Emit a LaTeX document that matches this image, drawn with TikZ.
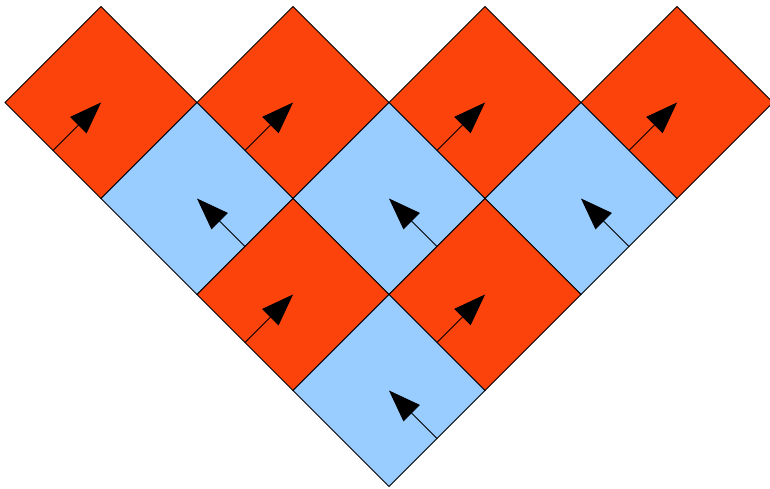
\documentclass[tikz,border=0pt]{standalone}
\usetikzlibrary{shapes.geometric,arrows.meta}
\definecolor{tilered}{RGB}{252,67,12}
\definecolor{tileblue}{RGB}{153,204,255}
\begin{document}
\begin{tikzpicture}[x=1pt,y=-1pt,
  tile/.style={diamond,draw=black,line width=0.8pt,minimum width=192pt,minimum height=192pt,inner sep=0pt,outer sep=0pt},
  redtile/.style={tile,fill=tilered},
  bluetile/.style={tile,fill=tileblue},
  vec/.style={line width=0.8pt,-{Triangle[length=32pt,width=23pt]}}]
\useasboundingbox (0,0) rectangle (770,489);
% row 0 (red)
\node[redtile] (a1) at (101,102.5) {};
\node[redtile] (a2) at (293,102.5) {};
\node[redtile] (a3) at (485,102.5) {};
\node[redtile] (a4) at (677,102.5) {};
% row 1 (blue)
\node[bluetile] (b1) at (197,198.5) {};
\node[bluetile] (b2) at (389,198.5) {};
\node[bluetile] (b3) at (581,198.5) {};
% row 2 (red)
\node[redtile] (c1) at (293,294.5) {};
\node[redtile] (c2) at (485,294.5) {};
% row 3 (blue)
\node[bluetile] (d1) at (389,390.5) {};
% arrows
\foreach \n in {a1,a2,a3,a4,c1,c2}{\draw[vec] (\n.south west) -- (\n.center);}
\foreach \n in {b1,b2,b3,d1}{\draw[vec] (\n.south east) -- (\n.center);}
\end{tikzpicture}
\end{document}
